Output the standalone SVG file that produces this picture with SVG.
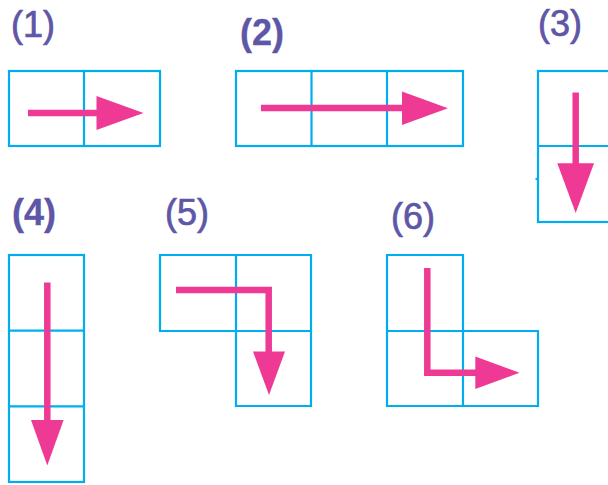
<svg xmlns="http://www.w3.org/2000/svg" width="608" height="485" viewBox="0 0 608 485">
<style>
.cell{fill:none;stroke:#00aeef;stroke-width:2.2}
.lbl{font-family:"Liberation Sans",Arial,sans-serif;font-size:36px;fill:#5e56a6;stroke:#5e56a6;stroke-width:0.7}
.b{font-weight:bold;stroke-width:0.3}
.shaft{fill:none;stroke:#ee3a95;stroke-width:6.5;stroke-linejoin:miter}
.head{fill:#ee3a95}
</style>
<rect width="608" height="485" fill="#fff"/>
<g id="panel1">
<text class="lbl" x="11" y="37">(1)</text>
<rect class="cell" x="9" y="71" width="151" height="75"/>
<line class="cell" x1="84" y1="71" x2="84" y2="146"/>
</g>
<g id="panel2">
<text class="lbl b" x="240" y="45">(2)</text>
<rect class="cell" x="236" y="71" width="227" height="75"/>
<line class="cell" x1="311.5" y1="71" x2="311.5" y2="146"/>
<line class="cell" x1="387" y1="71" x2="387" y2="146"/>
</g>
<g id="panel3">
<text class="lbl" x="538" y="36">(3)</text>
<rect class="cell" x="538" y="71" width="80" height="151"/>
<line class="cell" x1="538" y1="146" x2="618" y2="146"/>
<line class="cell" x1="535.5" y1="179" x2="539" y2="179"/>
</g>
<g id="panel4">
<text class="lbl b" x="12" y="225">(4)</text>
<rect class="cell" x="9" y="255" width="75" height="227"/>
<line class="cell" x1="9" y1="330.7" x2="84" y2="330.7"/>
<line class="cell" x1="9" y1="406.3" x2="84" y2="406.3"/>
</g>
<g id="panel5">
<text class="lbl" x="165" y="225">(5)</text>
<path class="cell" d="M160,255 H311 V406 H236 V331 H160 Z M236,255 V331 H311"/>
</g>
<g id="panel6">
<text class="lbl" x="391" y="229">(6)</text>
<path class="cell" d="M387,255 H463 V331 H538 V406 H387 Z M387,331 H463 V406"/>
</g>
<g id="connectors">
<line class="shaft" x1="28" y1="113" x2="98" y2="113"/>
<polygon class="head" points="96.5,96 143.5,113 96.5,130"/>
<line class="shaft" x1="261" y1="108" x2="403" y2="108"/>
<polygon class="head" points="402,91.5 448,108.3 402,125"/>
<line class="shaft" x1="575.7" y1="92.5" x2="575.7" y2="165"/>
<polygon class="head" points="557.3,163.3 594,163.3 575.7,213"/>
<line class="shaft" x1="47.3" y1="282.5" x2="47.3" y2="421"/>
<polygon class="head" points="31,420 63.6,420 47.3,465.5"/>
<path class="shaft" d="M176,290 H268.7 V353"/>
<polygon class="head" points="253,351.5 285,351.5 269,395"/>
<path class="shaft" d="M427.3,268 V372.7 H477"/>
<polygon class="head" points="475.3,356.5 519.5,372.7 475.3,389"/>
</g>
</svg>
